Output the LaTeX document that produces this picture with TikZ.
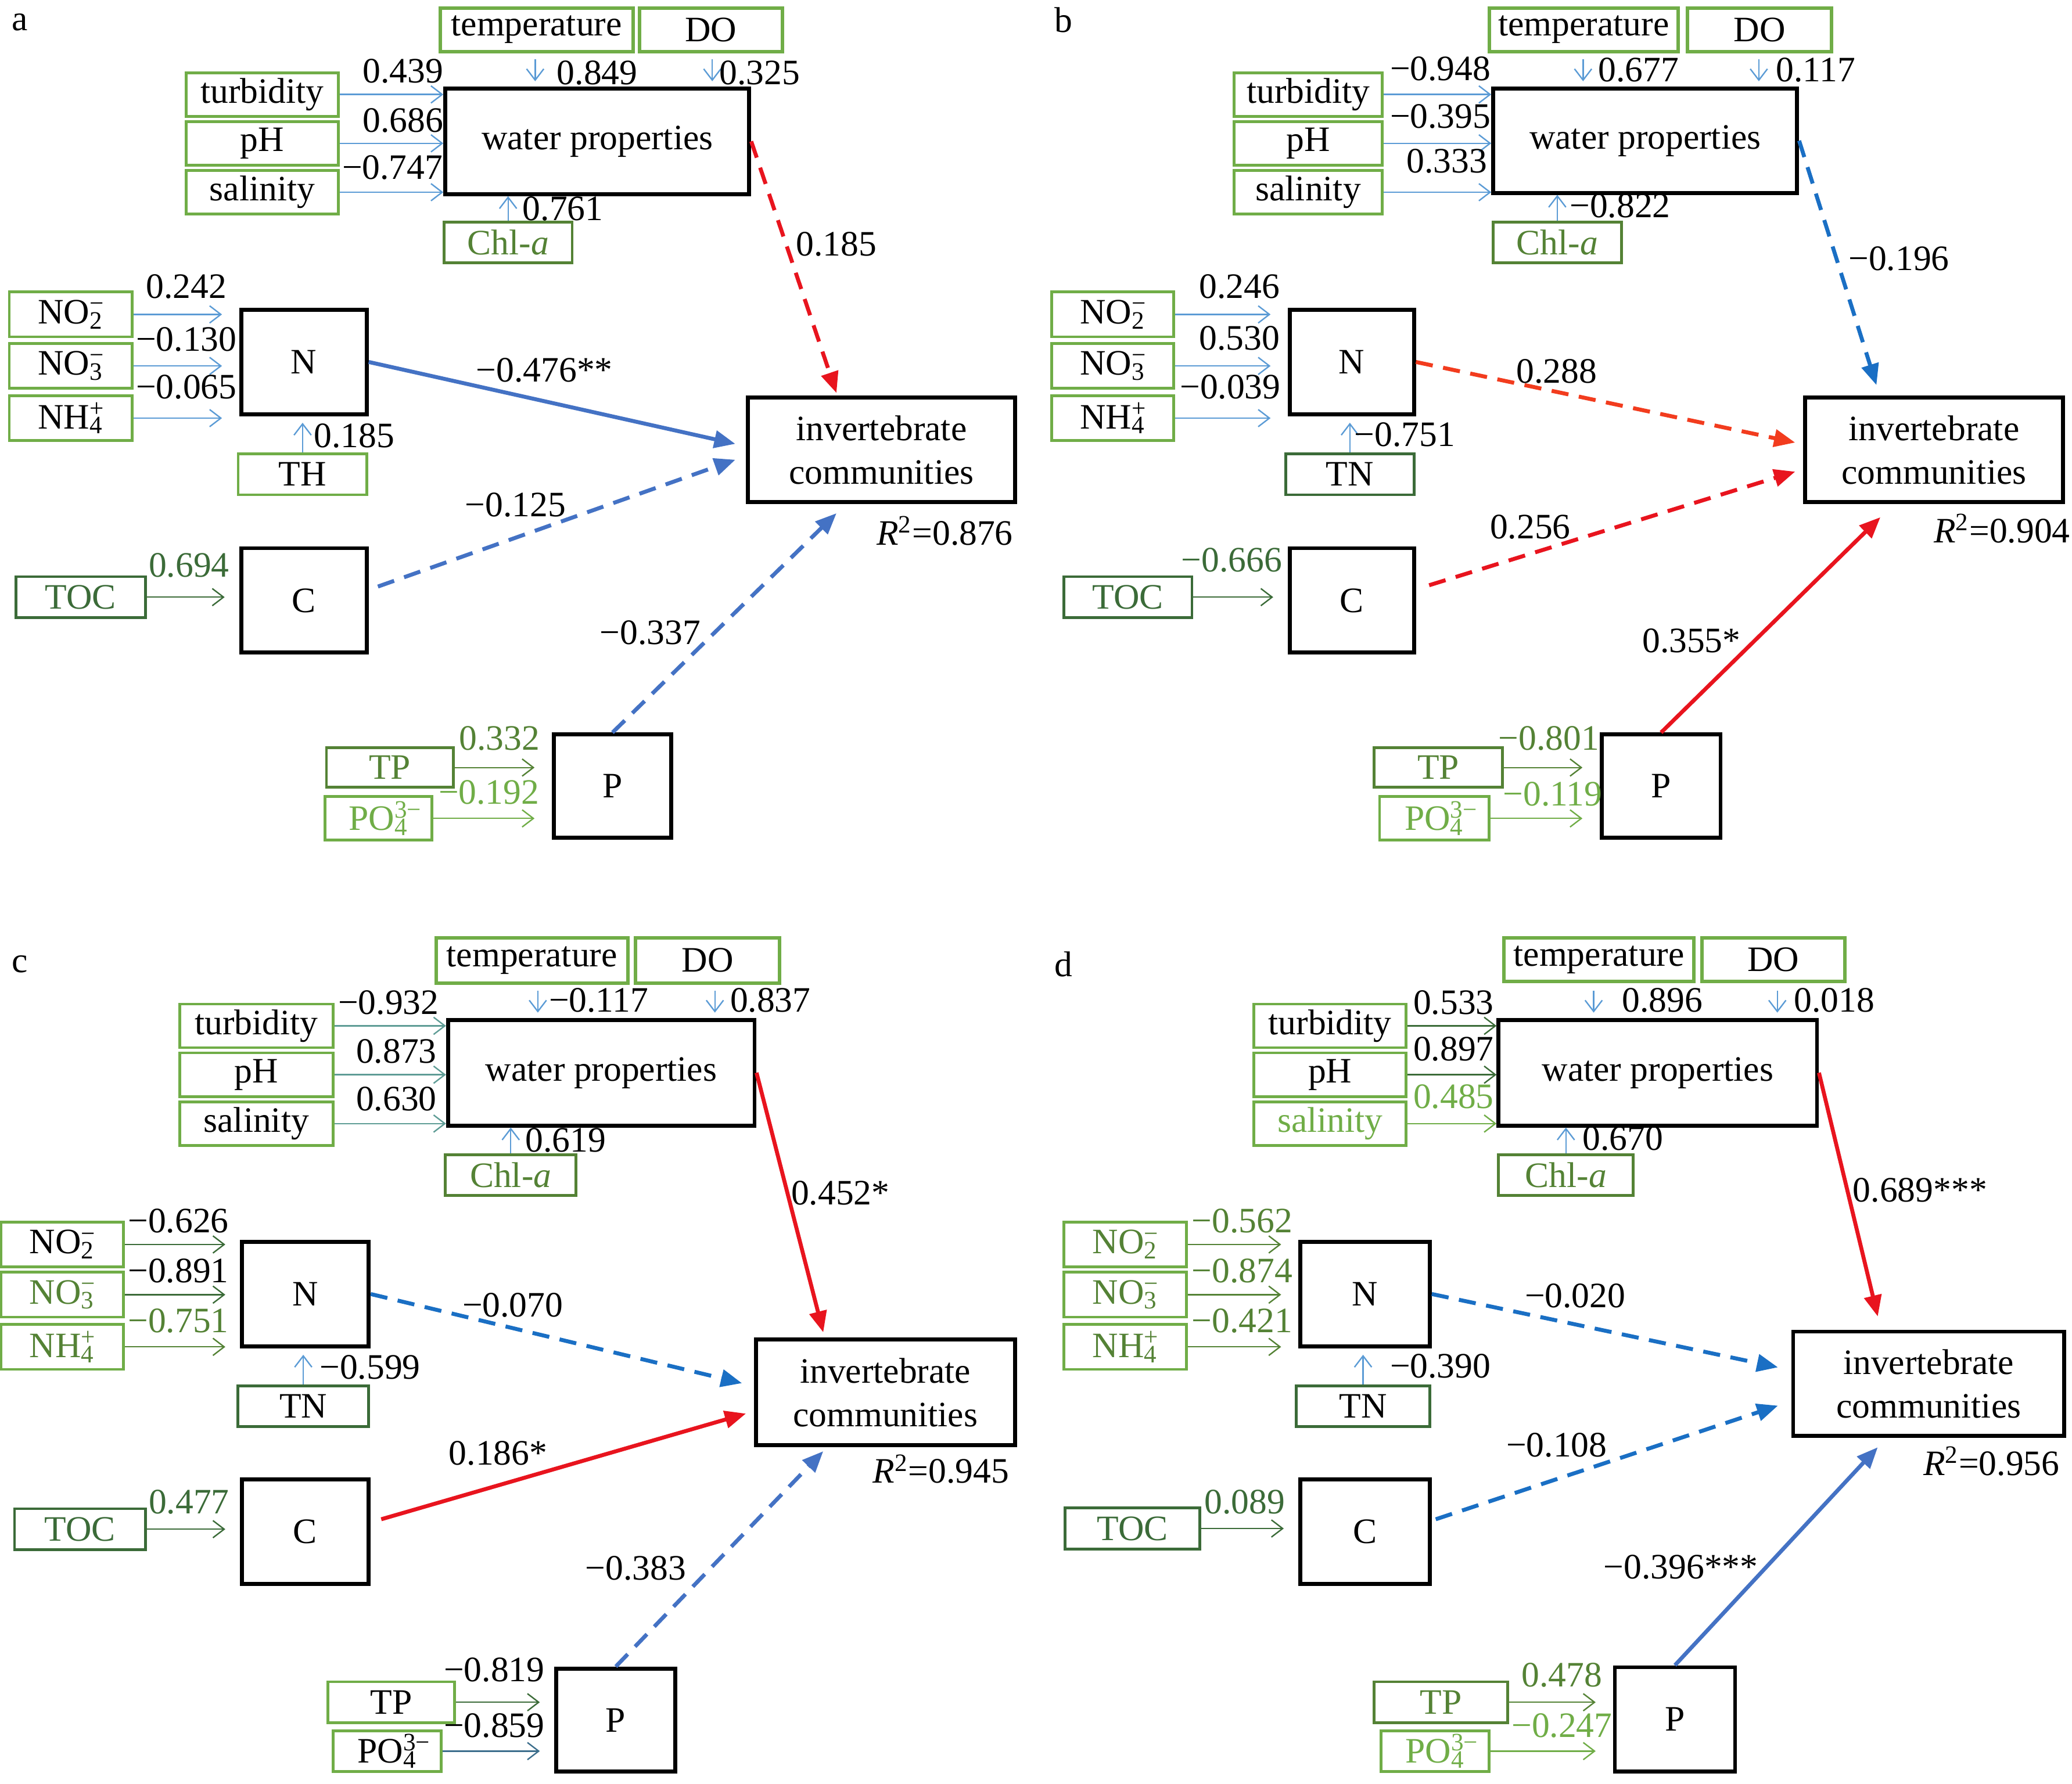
\documentclass[tikz,border=0pt]{standalone}
\usepackage{fontspec}
\setmainfont{Liberation Serif}
\usepackage{xcolor}
\usetikzlibrary{arrows.meta}

\definecolor{grnL}{HTML}{70AD47}
\definecolor{grnM}{HTML}{548235}
\definecolor{grnD}{HTML}{3B6B38}
\definecolor{bluL}{HTML}{5B9BD5}
\definecolor{bluS}{HTML}{4472C4}
\definecolor{bluD}{HTML}{1A6FC4}
\definecolor{redS}{HTML}{E8141E}
\definecolor{redO}{HTML}{F23C1E}
\definecolor{tealA}{HTML}{5E9C95}
\definecolor{steelA}{HTML}{3C6E8C}

\newcommand{\chemion}[3]{#1\rlap{\textsuperscript{#3}}\textsubscript{#2}}

\tikzset{
  facbox/.style={
    draw=grnL, line width=1.2pt, inner sep=0pt, minimum height=6.6mm
  },
  latbox/.style={
    draw=black, line width=1.7pt, inner sep=0pt,
    minimum width=19mm, minimum height=15.8mm
  },
  outbox/.style={
    latbox, align=center, font=\fontsize{15.4}{18.8}\selectfont
  },
  inarrow/.style={
    -{Straight Barb[length=1.7mm,width=2.6mm]}, line width=0.6pt, draw=bluL
  },
  patharrow/.style={
    -{Triangle[length=3.2mm,width=2.6mm]}, line width=1.7pt
  },
  pathdash/.style={
    patharrow, dash pattern=on 2.6mm off 1.6mm
  },
  coef/.style={inner sep=0pt},
  panelletter/.style={inner sep=0pt},
}

\begin{document}
\begin{tikzpicture}[
  x=0.2mm, y=-0.2mm,
  every node/.style={font=\fontsize{15.4}{18}\selectfont},
]
  \useasboundingbox (0,0) rectangle (1568,1350);

  % ── Panel a ────────────────────────────────────────────────────
  \node[panelletter] (a-tag) at (15,17) {a};
  \node[facbox, line width=1.5pt, minimum width=29.2mm] (a-temp) at (406,22.5) {temperature};
  \node[facbox, line width=1.5pt, minimum width=21.6mm] (a-do) at (538,22.5) {DO};
  \node[facbox, minimum width=23mm] (a-turb) at (198.5,71.5) {turbidity};
  \node[facbox, minimum width=23mm] (a-ph) at (198.5,108.5) {pH};
  \node[facbox, minimum width=23mm] (a-sal) at (198.5,145.5) {salinity};
  \node[latbox, minimum width=46mm, minimum height=16mm] (a-wp) at (452,107) {water properties};
  \node[facbox, draw=grnM, text=grnM, minimum width=19.4mm, minimum height=6.2mm]
    (a-chl) at (384.5,183.5) {Chl-\textit{a}};

  \node[facbox, minimum width=18.6mm, minimum height=6.8mm] (a-no2) at (53.5,238) {\chemion{NO}{2}{−}};
  \node[facbox, minimum width=18.6mm, minimum height=6.8mm] (a-no3) at (53.5,277) {\chemion{NO}{3}{−}};
  \node[facbox, minimum width=18.6mm, minimum height=6.8mm] (a-nh4) at (53.5,316.5) {\chemion{NH}{4}{+}};
  \node[latbox] (a-N) at (230,274) {N};
  \node[facbox, minimum width=19.5mm, minimum height=6.2mm] (a-th) at (229,359) {TH};
  \node[latbox] (a-C) at (230,454.5) {C};
  \node[facbox, draw=grnD, text=grnD, minimum width=19.6mm, minimum height=6.2mm] (a-toc) at (61,452) {TOC};
  \node[latbox, minimum width=17.8mm, minimum height=15.6mm] (a-P) at (463.5,595) {P};
  \node[facbox, draw=grnM, text=grnM, minimum width=19.2mm, minimum height=6mm] (a-tp) at (295,581) {TP};
  \node[facbox, text=grnL, minimum width=16.2mm] (a-po4) at (286.5,619.5) {\chemion{PO}{4}{3−}};
  \node[outbox, minimum width=40.4mm] (a-inv) at (667,340.5) {invertebrate\\communities};

  \coordinate (a-tdn) at (405,45);
  \coordinate (a-ddn) at (539,45);
  \draw[inarrow, shorten >=0.8mm] (a-tdn) -- (a-tdn |- a-wp.north);
  \draw[inarrow, shorten >=0.8mm] (a-ddn) -- (a-ddn |- a-wp.north);
  \draw[inarrow] (a-turb.east) -- (a-turb.east -| a-wp.west);
  \draw[inarrow] (a-ph.east) -- (a-ph.east -| a-wp.west);
  \draw[inarrow] (a-sal.east) -- (a-sal.east -| a-wp.west);
  \draw[inarrow] (a-chl.north) -- (a-chl.north |- a-wp.south);
  \draw[inarrow, shorten >=2.6mm] (a-no2.east) -- (a-no2.east -| a-N.west);
  \draw[inarrow, shorten >=2.6mm] (a-no3.east) -- (a-no3.east -| a-N.west);
  \draw[inarrow, shorten >=2.6mm] (a-nh4.east) -- (a-nh4.east -| a-N.west);
  \draw[inarrow, shorten >=1mm] (a-th.north) -- (a-th.north |- a-N.south);
  \draw[inarrow, draw=grnD, shorten >=2.2mm] (a-toc.east) -- (a-toc.east -| a-C.west);
  \draw[inarrow, draw=grnM, shorten >=2.6mm] (a-tp.east) -- (a-tp.east -| a-P.west);
  \draw[inarrow, draw=grnL, shorten >=2.6mm] (a-po4.east) -- (a-po4.east -| a-P.west);

  \draw[pathdash, redS] (a-wp.east) -- ([xshift=-6.8mm,yshift=0.4mm]a-inv.north);
  \draw[patharrow, bluS] (a-N.east) -- ([xshift=-1.6mm,yshift=0.9mm]a-inv.west);
  \draw[pathdash, bluS] ([xshift=1.4mm,yshift=2.1mm]a-C.east) -- ([xshift=-1.6mm,yshift=-1.5mm]a-inv.west);
  \draw[pathdash, bluS] (a-P.north) -- ([xshift=-6.8mm,yshift=-1.4mm]a-inv.south);

  \node[coef] (a-k1) at (305,54) {0.439};
  \node[coef] (a-k2) at (305,91) {0.686};
  \node[coef] (a-k3) at (297,127) {−0.747};
  \node[coef] (a-k4) at (452,55) {0.849};
  \node[coef] (a-k5) at (575,55) {0.325};
  \node[coef] (a-k6) at (426,158) {0.761};
  \node[coef] (a-k7) at (633,185) {0.185};
  \node[coef] (a-k8) at (141,217) {0.242};
  \node[coef] (a-k9) at (141,257) {−0.130};
  \node[coef] (a-k10) at (141,293) {−0.065};
  \node[coef] (a-k11) at (268,330) {0.185};
  \node[coef] (a-k12) at (412,280) {−0.476**};
  \node[coef] (a-k13) at (390,382) {−0.125};
  \node[coef, text=grnD] (a-k14) at (143,428) {0.694};
  \node[coef] (a-k15) at (492,479) {−0.337};
  \node[coef, text=grnM] (a-k16) at (378,559) {0.332};
  \node[coef, text=grnL] (a-k17) at (370,600) {−0.192};
  \node[coef] (a-r2) at (715,402) {\textit{R}\textsuperscript{2}=0.876};

  % ── Panel b ────────────────────────────────────────────────────
  \node[panelletter] (b-tag) at (805,15) {b};
  \node[facbox, line width=1.5pt, minimum width=28.6mm] (b-temp) at (1198.5,22.5) {temperature};
  \node[facbox, line width=1.5pt, minimum width=21.8mm] (b-do) at (1331.5,22.5) {DO};
  \node[facbox, minimum width=22.4mm] (b-turb) at (990,71.5) {turbidity};
  \node[facbox, minimum width=22.4mm] (b-ph) at (990,108.5) {pH};
  \node[facbox, minimum width=22.4mm] (b-sal) at (990,145.5) {salinity};
  \node[latbox, minimum width=46mm, minimum height=15.8mm] (b-wp) at (1245,106.5) {water properties};
  \node[facbox, draw=grnM, text=grnM, minimum width=19.4mm, minimum height=6.2mm]
    (b-chl) at (1178.5,183.5) {Chl-\textit{a}};

  \node[facbox, minimum width=18.4mm, minimum height=6.8mm] (b-no2) at (842,238) {\chemion{NO}{2}{−}};
  \node[facbox, minimum width=18.4mm, minimum height=6.8mm] (b-no3) at (842,277) {\chemion{NO}{3}{−}};
  \node[facbox, minimum width=18.4mm, minimum height=6.8mm] (b-nh4) at (842,316.5) {\chemion{NH}{4}{+}};
  \node[latbox, minimum width=18.8mm] (b-N) at (1023,274) {N};
  \node[facbox, draw=grnD, minimum width=19.4mm, minimum height=6.2mm] (b-tn) at (1021.5,359) {TN};
  \node[latbox, minimum width=18.8mm] (b-C) at (1023,454.5) {C};
  \node[facbox, draw=grnD, text=grnD, minimum width=19.4mm, minimum height=6.2mm] (b-toc) at (853.5,452) {TOC};
  \node[latbox, minimum width=18mm, minimum height=15.6mm] (b-P) at (1257,595) {P};
  \node[facbox, draw=grnM, text=grnM, minimum width=19.4mm, minimum height=6mm] (b-tp) at (1088.5,581) {TP};
  \node[facbox, text=grnL, minimum width=16.6mm] (b-po4) at (1085.5,619.5) {\chemion{PO}{4}{3−}};
  \node[outbox, minimum width=39mm] (b-inv) at (1463.5,340.5) {invertebrate\\communities};

  \coordinate (b-tdn) at (1198,45);
  \coordinate (b-ddn) at (1331,45);
  \draw[inarrow, shorten >=0.8mm] (b-tdn) -- (b-tdn |- b-wp.north);
  \draw[inarrow, shorten >=0.8mm] (b-ddn) -- (b-ddn |- b-wp.north);
  \draw[inarrow] (b-turb.east) -- (b-turb.east -| b-wp.west);
  \draw[inarrow] (b-ph.east) -- (b-ph.east -| b-wp.west);
  \draw[inarrow] (b-sal.east) -- (b-sal.east -| b-wp.west);
  \draw[inarrow] (b-chl.north) -- (b-chl.north |- b-wp.south);
  \draw[inarrow, shorten >=2.6mm] (b-no2.east) -- (b-no2.east -| b-N.west);
  \draw[inarrow, shorten >=2.6mm] (b-no3.east) -- (b-no3.east -| b-N.west);
  \draw[inarrow, shorten >=2.6mm] (b-nh4.east) -- (b-nh4.east -| b-N.west);
  \draw[inarrow, shorten >=1mm] (b-tn.north) -- (b-tn.north |- b-N.south);
  \draw[inarrow, draw=grnD, shorten >=2.2mm] (b-toc.east) -- (b-toc.east -| b-C.west);
  \draw[inarrow, draw=grnM, shorten >=2.6mm] (b-tp.east) -- (b-tp.east -| b-P.west);
  \draw[inarrow, draw=grnL, shorten >=2.6mm] (b-po4.east) -- (b-po4.east -| b-P.west);

  \draw[pathdash, bluD] (b-wp.east) -- ([xshift=-8.7mm,yshift=1.6mm]b-inv.north);
  \draw[pathdash, redO] (b-N.east) -- ([xshift=-1.2mm,yshift=1.1mm]b-inv.west);
  \draw[pathdash, redS] ([xshift=2mm,yshift=2.3mm]b-C.east) -- ([xshift=-1.2mm,yshift=-3.3mm]b-inv.west);
  \draw[patharrow, redS] (b-P.north) -- ([xshift=-8.1mm,yshift=-2mm]b-inv.south);

  \node[coef] (b-k1) at (1090,52) {−0.948};
  \node[coef] (b-k2) at (1090,88) {−0.395};
  \node[coef] (b-k3) at (1095,122) {0.333};
  \node[coef] (b-k4) at (1240,53) {0.677};
  \node[coef] (b-k5) at (1374,53) {0.117};
  \node[coef] (b-k6) at (1226,156) {−0.822};
  \node[coef] (b-k7) at (1437,196) {−0.196};
  \node[coef] (b-k8) at (938,217) {0.246};
  \node[coef] (b-k9) at (938,256) {0.530};
  \node[coef] (b-k10) at (931,293) {−0.039};
  \node[coef] (b-k11) at (1063,329) {−0.751};
  \node[coef] (b-k12) at (1178,281) {0.288};
  \node[coef] (b-k13) at (1158,399) {0.256};
  \node[coef, text=grnD] (b-k14) at (932,424) {−0.666};
  \node[coef] (b-k15) at (1280,485) {0.355*};
  \node[coef, text=grnM] (b-k16) at (1172,559) {−0.801};
  \node[coef, text=grnL] (b-k17) at (1175,601) {−0.119};
  \node[coef] (b-r2) at (1515,400) {\textit{R}\textsuperscript{2}=0.904};

  % ── Panel c ────────────────────────────────────────────────────
  \node[panelletter] (c-tag) at (15,730) {c};
  \node[facbox, line width=1.5pt, minimum width=29mm, minimum height=6.8mm] (c-temp) at (402.5,727) {temperature};
  \node[facbox, line width=1.5pt, minimum width=21.8mm, minimum height=6.8mm] (c-do) at (535.5,727) {DO};
  \node[facbox, minimum width=23.2mm] (c-turb) at (194,776.5) {turbidity};
  \node[facbox, minimum width=23.2mm] (c-ph) at (194,813.5) {pH};
  \node[facbox, minimum width=23.2mm] (c-sal) at (194,850.5) {salinity};
  \node[latbox, minimum width=46.4mm, minimum height=16mm] (c-wp) at (455,812) {water properties};
  \node[facbox, draw=grnM, text=grnM, minimum width=19.8mm, minimum height=6.2mm]
    (c-chl) at (386.5,889.5) {Chl-\textit{a}};

  \node[facbox, minimum width=18.6mm, minimum height=6.8mm] (c-no2) at (47,942) {\chemion{NO}{2}{−}};
  \node[facbox, text=grnM, minimum width=18.6mm, minimum height=6.8mm] (c-no3) at (47,980) {\chemion{NO}{3}{−}};
  \node[facbox, text=grnM, minimum width=18.6mm, minimum height=6.8mm] (c-nh4) at (47,1019.5) {\chemion{NH}{4}{+}};
  \node[latbox, minimum width=19.2mm] (c-N) at (231,979.5) {N};
  \node[facbox, draw=grnD, minimum width=19.8mm, minimum height=6.2mm] (c-tn) at (229.5,1064.5) {TN};
  \node[latbox, minimum width=19.2mm] (c-C) at (231,1159.5) {C};
  \node[facbox, draw=grnD, text=grnD, minimum width=19.8mm, minimum height=6.2mm] (c-toc) at (60.5,1157.5) {TOC};
  \node[latbox, minimum width=18mm, minimum height=15.6mm] (c-P) at (466,1302) {P};
  \node[facbox, minimum width=19.2mm, minimum height=6.2mm] (c-tp) at (296,1288.5) {TP};
  \node[facbox, minimum width=16.4mm, minimum height=6.2mm] (c-po4) at (293,1325.5) {\chemion{PO}{4}{3−}};
  \node[outbox, minimum width=39.2mm, minimum height=16mm] (c-inv) at (670,1054) {invertebrate\\communities};

  \coordinate (c-tdn) at (407,750);
  \coordinate (c-ddn) at (541,750);
  \draw[inarrow, shorten >=0.8mm] (c-tdn) -- (c-tdn |- c-wp.north);
  \draw[inarrow, shorten >=0.8mm] (c-ddn) -- (c-ddn |- c-wp.north);
  \draw[inarrow, draw=tealA] (c-turb.east) -- (c-turb.east -| c-wp.west);
  \draw[inarrow, draw=tealA] (c-ph.east) -- (c-ph.east -| c-wp.west);
  \draw[inarrow, draw=tealA] (c-sal.east) -- (c-sal.east -| c-wp.west);
  \draw[inarrow] (c-chl.north) -- (c-chl.north |- c-wp.south);
  \draw[inarrow, draw=grnD, shorten >=2.2mm] (c-no2.east) -- (c-no2.east -| c-N.west);
  \draw[inarrow, draw=grnD, shorten >=2.2mm] (c-no3.east) -- (c-no3.east -| c-N.west);
  \draw[inarrow, draw=grnM, shorten >=2.2mm] (c-nh4.east) -- (c-nh4.east -| c-N.west);
  \draw[inarrow, shorten >=1mm] (c-tn.north) -- (c-tn.north |- c-N.south);
  \draw[inarrow, draw=grnD, shorten >=2.2mm] (c-toc.east) -- (c-toc.east -| c-C.west);
  \draw[inarrow, draw=grnD, shorten >=2.2mm] (c-tp.east) -- (c-tp.east -| c-P.west);
  \draw[inarrow, draw=steelA, shorten >=2.2mm] (c-po4.east) -- (c-po4.east -| c-P.west);

  \draw[patharrow, redS] (c-wp.east) -- ([xshift=-9.4mm,yshift=0.8mm]c-inv.north);
  \draw[pathdash, bluD] (c-N.east) -- ([xshift=-1.8mm,yshift=1.4mm]c-inv.west);
  \draw[patharrow, redS] ([xshift=1.6mm,yshift=1.9mm]c-C.east) -- ([xshift=-1.2mm,yshift=-3.2mm]c-inv.west);
  \draw[pathdash, bluS] (c-P.north) -- ([xshift=-9.4mm,yshift=-0.6mm]c-inv.south);

  \node[coef] (c-k1) at (294,759) {−0.932};
  \node[coef] (c-k2) at (300,796) {0.873};
  \node[coef] (c-k3) at (300,832) {0.630};
  \node[coef] (c-k4) at (453,757) {−0.117};
  \node[coef] (c-k5) at (583,757) {0.837};
  \node[coef] (c-k6) at (428,863) {0.619};
  \node[coef] (c-k7) at (636,903) {0.452*};
  \node[coef] (c-k8) at (135,924) {−0.626};
  \node[coef] (c-k9) at (135,962) {−0.891};
  \node[coef, text=grnM] (c-k10) at (135,1000) {−0.751};
  \node[coef] (c-k11) at (280,1035) {−0.599};
  \node[coef] (c-k12) at (388,988) {−0.070};
  \node[coef] (c-k13) at (377,1100) {0.186*};
  \node[coef, text=grnD] (c-k14) at (143,1137) {0.477};
  \node[coef] (c-k15) at (481,1187) {−0.383};
  \node[coef] (c-k16) at (374,1264) {−0.819};
  \node[coef] (c-k17) at (374,1306) {−0.859};
  \node[coef] (c-r2) at (712,1112) {\textit{R}\textsuperscript{2}=0.945};

  % ── Panel d ────────────────────────────────────────────────────
  \node[panelletter] (d-tag) at (805,730) {d};
  \node[facbox, line width=1.5pt, minimum width=28.8mm] (d-temp) at (1210,726.5) {temperature};
  \node[facbox, line width=1.5pt, minimum width=21.6mm] (d-do) at (1342,726.5) {DO};
  \node[facbox, minimum width=23mm] (d-turb) at (1006.5,776.5) {turbidity};
  \node[facbox, minimum width=23mm] (d-ph) at (1006.5,813.5) {pH};
  \node[facbox, text=grnL, minimum width=23mm] (d-sal) at (1006.5,850.5) {salinity};
  \node[latbox, minimum width=48.2mm, minimum height=16mm] (d-wp) at (1254.5,812) {water properties};
  \node[facbox, draw=grnM, text=grnM, minimum width=20.4mm, minimum height=6.2mm]
    (d-chl) at (1185,889.5) {Chl-\textit{a}};

  \node[facbox, text=grnM, minimum width=18.6mm, minimum height=6.8mm] (d-no2) at (851.5,942) {\chemion{NO}{2}{−}};
  \node[facbox, text=grnM, minimum width=18.6mm, minimum height=6.8mm] (d-no3) at (851.5,980) {\chemion{NO}{3}{−}};
  \node[facbox, text=grnM, minimum width=18.6mm, minimum height=6.8mm] (d-nh4) at (851.5,1019.5) {\chemion{NH}{4}{+}};
  \node[latbox, minimum width=19.6mm] (d-N) at (1033,979.5) {N};
  \node[facbox, draw=grnD, minimum width=20.2mm, minimum height=6.2mm] (d-tn) at (1031.5,1064.5) {TN};
  \node[latbox, minimum width=19.6mm] (d-C) at (1033,1159.5) {C};
  \node[facbox, draw=grnD, text=grnD, minimum width=20.4mm, minimum height=6.2mm] (d-toc) at (857,1157) {TOC};
  \node[latbox, minimum width=18.2mm] (d-P) at (1267.5,1301.5) {P};
  \node[facbox, draw=grnM, text=grnM, minimum width=20.2mm, minimum height=6.2mm] (d-tp) at (1090.5,1288.5) {TP};
  \node[facbox, text=grnL, minimum width=16.4mm, minimum height=6.2mm] (d-po4) at (1086,1325.5) {\chemion{PO}{4}{3−}};
  \node[outbox, minimum width=41mm] (d-inv) at (1459.5,1047.5) {invertebrate\\communities};

  \coordinate (d-tdn) at (1206,750);
  \coordinate (d-ddn) at (1345,750);
  \draw[inarrow, shorten >=0.8mm] (d-tdn) -- (d-tdn |- d-wp.north);
  \draw[inarrow, shorten >=0.8mm] (d-ddn) -- (d-ddn |- d-wp.north);
  \draw[inarrow, draw=grnD] (d-turb.east) -- (d-turb.east -| d-wp.west);
  \draw[inarrow, draw=grnD] (d-ph.east) -- (d-ph.east -| d-wp.west);
  \draw[inarrow, draw=grnL] (d-sal.east) -- (d-sal.east -| d-wp.west);
  \draw[inarrow] (d-chl.north) -- (d-chl.north |- d-wp.south);
  \draw[inarrow, draw=grnM, shorten >=2.6mm] (d-no2.east) -- (d-no2.east -| d-N.west);
  \draw[inarrow, draw=grnM, shorten >=2.6mm] (d-no3.east) -- (d-no3.east -| d-N.west);
  \draw[inarrow, draw=grnM, shorten >=2.6mm] (d-nh4.east) -- (d-nh4.east -| d-N.west);
  \draw[inarrow, shorten >=1mm] (d-tn.north) -- (d-tn.north |- d-N.south);
  \draw[inarrow, draw=grnD, shorten >=2.2mm] (d-toc.east) -- (d-toc.east -| d-C.west);
  \draw[inarrow, draw=grnM, shorten >=2.6mm] (d-tp.east) -- (d-tp.east -| d-P.west);
  \draw[inarrow, draw=grnL, shorten >=2.6mm] (d-po4.east) -- (d-po4.east -| d-P.west);

  \draw[patharrow, redS] (d-wp.east) -- ([xshift=-7.7mm,yshift=2mm]d-inv.north);
  \draw[pathdash, bluD] (d-N.east) -- ([xshift=-2mm,yshift=2.5mm]d-inv.west);
  \draw[pathdash, bluD] ([xshift=0.6mm,yshift=1.9mm]d-C.east) -- ([xshift=-2mm,yshift=-3.3mm]d-inv.west);
  \draw[patharrow, bluS] (d-P.north) -- ([xshift=-7.7mm,yshift=-1.4mm]d-inv.south);

  \node[coef] (d-k1) at (1100,759) {0.533};
  \node[coef] (d-k2) at (1100,794) {0.897};
  \node[coef, text=grnL] (d-k3) at (1100,830) {0.485};
  \node[coef] (d-k4) at (1258,757) {0.896};
  \node[coef] (d-k5) at (1388,757) {0.018};
  \node[coef] (d-k6) at (1228,862) {0.670};
  \node[coef] (d-k7) at (1453,901) {0.689***};
  \node[coef, text=grnM] (d-k8) at (940,924) {−0.562};
  \node[coef, text=grnM] (d-k9) at (940,962) {−0.874};
  \node[coef, text=grnM] (d-k10) at (940,1000) {−0.421};
  \node[coef] (d-k11) at (1090,1034) {−0.390};
  \node[coef] (d-k12) at (1192,981) {−0.020};
  \node[coef] (d-k13) at (1178,1094) {−0.108};
  \node[coef, text=grnD] (d-k14) at (942,1137) {0.089};
  \node[coef] (d-k15) at (1272,1186) {−0.396***};
  \node[coef, text=grnM] (d-k16) at (1182,1268) {0.478};
  \node[coef, text=grnL] (d-k17) at (1182,1306) {−0.247};
  \node[coef] (d-r2) at (1507,1106) {\textit{R}\textsuperscript{2}=0.956};
\end{tikzpicture}
\end{document}
